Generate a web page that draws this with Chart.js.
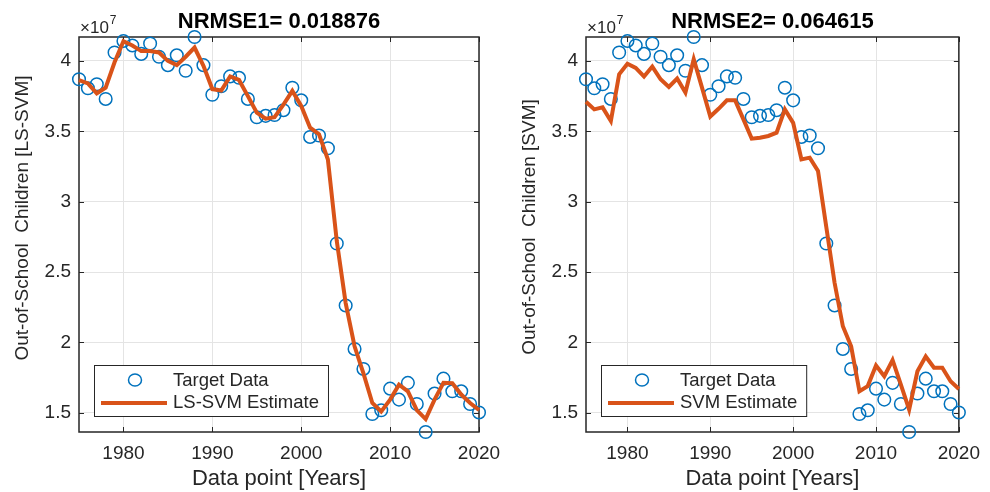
<!DOCTYPE html>
<html>
<head>
<meta charset="utf-8">
<script src="https://cdn.jsdelivr.net/npm/chart.js@4.4.1/dist/chart.umd.min.js"></script>
<style>
  body { margin: 0; background: #fff; width: 990px; height: 492px; position: relative; overflow: hidden; }
  .panel { position: absolute; top: 0; height: 492px; }
</style>
</head>
<body>
<div class="panel" style="left:0; width:520px;"><canvas id="graficoLSSVM"></canvas></div>
<div class="panel" style="left:495px; width:495px;"><canvas id="graficoSVM"></canvas></div>

<script>
// Datos (niños fuera de la escuela, en unidades de 10^7)
const anios = [1975, 1976, 1977, 1978, 1979, 1980, 1981, 1982, 1983, 1984,
               1985, 1986, 1987, 1988, 1989, 1990, 1991, 1992, 1993, 1994,
               1995, 1996, 1997, 1998, 1999, 2000, 2001, 2002, 2003, 2004,
               2005, 2006, 2007, 2008, 2009, 2010, 2011, 2012, 2013, 2014,
               2015, 2016, 2017, 2018, 2019, 2020];

const objetivo = [3.87, 3.806, 3.834, 3.73, 4.06, 4.142, 4.11, 4.05, 4.124, 4.03,
                  3.97, 4.04, 3.93, 4.17, 3.97, 3.76, 3.82, 3.89, 3.88, 3.73,
                  3.60, 3.61, 3.616, 3.65, 3.81, 3.72, 3.46, 3.47, 3.38, 2.703,
                  2.263, 1.954, 1.812, 1.492, 1.518, 1.672, 1.594, 1.713, 1.563, 1.364,
                  1.637, 1.743, 1.653, 1.653, 1.563, 1.503];

const estimadoLSSVM = [3.863, 3.84, 3.77, 3.81, 3.99, 4.14, 4.11, 4.07, 4.07, 4.06,
                       4.0, 3.97, 4.03, 4.095, 3.965, 3.80, 3.79, 3.89, 3.865, 3.75,
                       3.633, 3.59, 3.60, 3.69, 3.787, 3.68, 3.526, 3.48, 3.30, 2.72,
                       2.28, 1.973, 1.78, 1.57, 1.51, 1.594, 1.70, 1.653, 1.52, 1.456,
                       1.594, 1.713, 1.71, 1.63, 1.57, 1.52];

const estimadoSVM = [3.71, 3.656, 3.67, 3.573, 3.905, 3.98, 3.95, 3.89, 3.96, 3.87,
                     3.815, 3.875, 3.775, 4.012, 3.81, 3.605, 3.66, 3.72, 3.72, 3.585,
                     3.448, 3.455, 3.467, 3.49, 3.656, 3.56, 3.30, 3.313, 3.218, 2.82,
                     2.424, 2.115, 1.973, 1.653, 1.69, 1.836, 1.76, 1.874, 1.70, 1.523,
                     1.795, 1.90, 1.82, 1.82, 1.724, 1.67];

const ticksX = [1980, 1990, 2000, 2010, 2020];
const ticksY = [1.5, 2, 2.5, 3, 3.5, 4];

const AZUL = '#0072BD';
const NARANJA = '#D95319';
const TEXTO = '#262626';
const FUENTE = 'Arial, "Liberation Sans", sans-serif';

Chart.defaults.font.family = FUENTE;
Chart.defaults.color = TEXTO;

// Marco con marcas hacia adentro, titulos y leyenda
const marcoPlugin = {
    id: 'marco',
    beforeDatasetsDraw(chart) {
        const { ctx, chartArea: a, scales: { x, y } } = chart;
        ctx.save();
        ctx.strokeStyle = TEXTO;
        ctx.lineWidth = 1;
        ctx.beginPath();
        x.ticks.forEach(t => {
            const px = Math.round(x.getPixelForValue(t.value)) + 0.5;
            ctx.moveTo(px, a.bottom); ctx.lineTo(px, a.bottom - 5);
            ctx.moveTo(px, a.top); ctx.lineTo(px, a.top + 5);
        });
        y.ticks.forEach(t => {
            const py = Math.round(y.getPixelForValue(t.value)) + 0.5;
            ctx.moveTo(a.left, py); ctx.lineTo(a.left + 5, py);
            ctx.moveTo(a.right, py); ctx.lineTo(a.right - 5, py);
        });
        ctx.stroke();
        ctx.lineWidth = 1.5;
        ctx.strokeRect(a.left, a.top, a.right - a.left, a.bottom - a.top);
        ctx.restore();
    },
    afterDraw(chart, args, opts) {
        const { ctx, chartArea: a } = chart;
        const cx = (a.left + a.right) / 2;
        ctx.save();
        ctx.fillStyle = TEXTO;

        // titulo
        ctx.font = `bold 22px ${FUENTE}`;
        ctx.textAlign = 'center';
        ctx.textBaseline = 'alphabetic';
        ctx.fillStyle = '#000';
        ctx.fillText(opts.titulo, cx, 28);
        ctx.fillStyle = TEXTO;

        // exponente del eje y
        ctx.textAlign = 'left';
        ctx.font = `17px ${FUENTE}`;
        ctx.fillText('×10', a.left + 1, a.top - 4);
        const w = ctx.measureText('×10').width;
        ctx.font = `12px ${FUENTE}`;
        ctx.fillText('7', a.left + 2 + w, a.top - 13);

        // titulo eje x
        ctx.font = `22px ${FUENTE}`;
        ctx.textAlign = 'center';
        ctx.fillText('Data point [Years]', cx, 485);

        // titulo eje y
        ctx.save();
        ctx.translate(a.left - 51, opts.centroTituloY);
        ctx.rotate(-Math.PI / 2);
        ctx.font = `19px ${FUENTE}`;
        ctx.fillText(opts.tituloY, 0, 0);
        ctx.restore();

        // leyenda
        ctx.font = `18.5px ${FUENTE}`;
        const ancho = 79 + Math.max(ctx.measureText('Target Data').width,
                                    ctx.measureText(opts.etiqueta).width) + 9;
        const bx = a.left + 15;
        const by = a.bottom - 16 - 51;
        ctx.fillStyle = '#fff';
        ctx.fillRect(bx, by, ancho, 51);
        ctx.strokeStyle = TEXTO;
        ctx.lineWidth = 1;
        ctx.strokeRect(bx + 0.5, by + 0.5, ancho, 51);

        ctx.strokeStyle = AZUL;
        ctx.lineWidth = 1.5;
        ctx.beginPath();
        ctx.ellipse(bx + 41, by + 15, 6.5, 6, 0, 0, Math.PI * 2);
        ctx.stroke();

        ctx.strokeStyle = NARANJA;
        ctx.lineWidth = 4;
        ctx.beginPath();
        ctx.moveTo(bx + 7, by + 38);
        ctx.lineTo(bx + 73, by + 38);
        ctx.stroke();

        ctx.fillStyle = TEXTO;
        ctx.textAlign = 'left';
        ctx.textBaseline = 'middle';
        ctx.fillText('Target Data', bx + 79, by + 16);
        ctx.fillText(opts.etiqueta, bx + 79, by + 38);
        ctx.restore();
    }
};

function crearGrafico(idCanvas, estimado, cfg) {
    const ctx = document.getElementById(idCanvas).getContext('2d');
    const yMin = Math.min(...objetivo);
    const yMax = Math.max(...objetivo);

    new Chart(ctx, {
        type: 'line',
        data: {
            datasets: [{
                label: 'Target Data',
                data: anios.map((a, i) => ({ x: a, y: objetivo[i] })),
                showLine: false,
                pointStyle: 'circle',
                pointRadius: 6.3,
                pointBorderWidth: 1.5,
                pointBorderColor: AZUL,
                pointBackgroundColor: 'transparent',
                borderColor: AZUL,
                clip: false,
                order: 1
            }, {
                label: cfg.etiqueta,
                data: anios.map((a, i) => ({ x: a, y: estimado[i] })),
                borderColor: NARANJA,
                borderWidth: 4,
                pointRadius: 0,
                tension: 0,
                borderJoinStyle: 'miter',
                clip: false,
                order: 0
            }]
        },
        options: {
            responsive: true,
            maintainAspectRatio: false,
            animation: false,
            events: [],
            layout: { padding: { left: 0, top: 37, right: cfg.margenDerecho, bottom: 0 } },
            scales: {
                x: {
                    type: 'linear',
                    min: 1975,
                    max: 2020,
                    afterBuildTicks: s => { s.ticks = ticksX.map(v => ({ value: v })); },
                    afterFit: s => { s.height = 60; },
                    grid: { color: '#e4e4e4', drawTicks: false },
                    border: { display: false },
                    ticks: { font: { size: 19 }, padding: 10, maxRotation: 0, callback: v => String(v) }
                },
                y: {
                    min: yMin,
                    max: yMax,
                    afterBuildTicks: s => { s.ticks = ticksY.map(v => ({ value: v })); },
                    afterFit: s => { s.width = cfg.margenIzquierdo; },
                    grid: { color: '#e4e4e4', drawTicks: false },
                    border: { display: false },
                    ticks: { font: { size: 19 }, padding: 8, callback: v => String(v) }
                }
            },
            plugins: {
                legend: { display: false },
                tooltip: { enabled: false },
                marco: {
                    titulo: cfg.titulo,
                    tituloY: cfg.tituloY,
                    etiqueta: cfg.etiqueta,
                    centroTituloY: cfg.centroTituloY
                }
            }
        },
        plugins: [marcoPlugin]
    });
}

crearGrafico('graficoLSSVM', estimadoLSSVM, {
    titulo: 'NRMSE1= 0.018876',
    tituloY: 'Out-of-School  Children [LS-SVM]',
    etiqueta: 'LS-SVM Estimate',
    margenIzquierdo: 79,
    margenDerecho: 41,
    centroTituloY: 218
});

crearGrafico('graficoSVM', estimadoSVM, {
    titulo: 'NRMSE2= 0.064615',
    tituloY: 'Out-of-School  Children [SVM]',
    etiqueta: 'SVM Estimate',
    margenIzquierdo: 91,
    margenDerecho: 25,
    centroTituloY: 227
});
</script>
</body>
</html>
